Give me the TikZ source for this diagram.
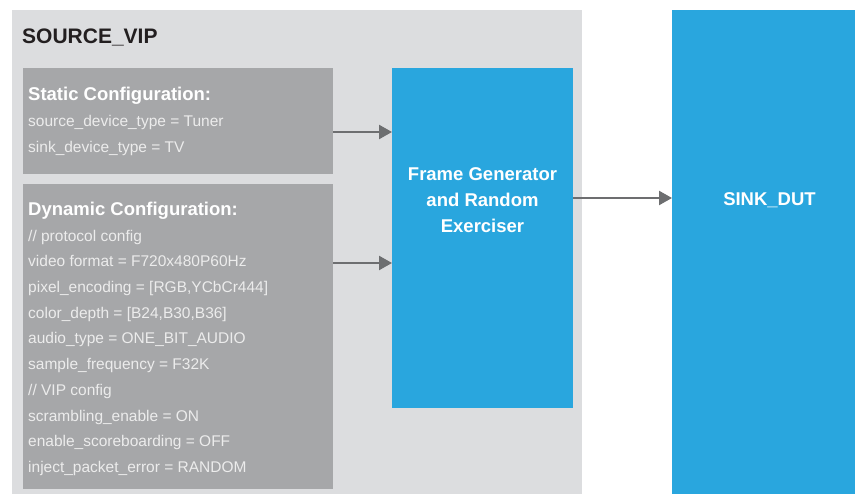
\documentclass[tikz,border=0pt]{standalone}
\usepackage{fontspec}
\setmainfont{Liberation Sans}
\usetikzlibrary{calc,arrows.meta}

\definecolor{outergray}{HTML}{DCDDDF}
\definecolor{innergray}{HTML}{A6A7A9}
\definecolor{vipblue}{HTML}{29A6DE}
\definecolor{arrowgray}{HTML}{6D6E70}
\definecolor{cfgtext}{HTML}{ECECEC}
\definecolor{titletext}{HTML}{231F20}

\begin{document}
\begin{tikzpicture}[x=1pt,y=-1pt]
	\tikzstyle{block}=[rectangle,inner sep=0pt,outer sep=0pt]
	\tikzstyle{cfgline}=[anchor=base west,inner sep=0pt,text=cfgtext,font=\fontsize{15.5}{26}\selectfont]
	\tikzstyle{cfgtitle}=[anchor=base west,inner sep=0pt,text=white,font=\bfseries\fontsize{18.5}{26}\selectfont]
	\tikzstyle{flow}=[draw=arrowgray,line width=2.4pt,-{Triangle[length=13pt,width=14pt]},arrowgray]
	
	\useasboundingbox (0,0) rectangle (855,494);
	
	% blocks
	\node[block,fill=outergray,minimum width=570pt,minimum height=484pt] (source) at (297,252) {};
	\node[block,fill=innergray,minimum width=310pt,minimum height=106pt] (static) at (178,121) {};
	\node[block,fill=innergray,minimum width=310pt,minimum height=305pt] (dynamic) at (178,336.5) {};
	\node[block,fill=vipblue,minimum width=181pt,minimum height=340pt] (framegen) at (482.5,238) {};
	\node[block,fill=vipblue,minimum width=183pt,minimum height=484pt] (sink) at (763.5,252) {};
	
	\node[anchor=base west,inner sep=0pt,text=titletext,font=\bfseries\fontsize{21}{26}\selectfont] (source-title) at (22,44) {SOURCE\_VIP};
	
	% static configuration
	\node[cfgtitle] (static-title) at (28,101) {Static Configuration:};
	\foreach \i/\txt in {1/{source\_device\_type = Tuner}, 2/{sink\_device\_type = TV}}
	\node[cfgline] (static-\i) at (28,101+25.7*\i) {\txt};
	
	% dynamic configuration
	\node[cfgtitle] (dynamic-title) at (28,215.5) {Dynamic Configuration:};
	\foreach \i/\txt in {1/{// protocol config},
		2/{video format = F720x480P60Hz},
		3/{pixel\_encoding = [RGB,YCbCr444]},
		4/{color\_depth = [B24,B30,B36]},
		5/{audio\_type = ONE\_BIT\_AUDIO},
		6/{sample\_frequency = F32K},
		7/{// VIP config},
		8/{scrambling\_enable = ON},
		9/{enable\_scoreboarding = OFF},
		10/{inject\_packet\_error = RANDOM}}
	\node[cfgline] (dynamic-\i) at (28,215.5+25.7*\i) {\txt};
	
	\node[align=center,text=white,font=\bfseries\fontsize{18.5}{26}\selectfont] (framegen-label) at ([yshift=38pt]framegen.center) {Frame Generator\\and Random\\Exerciser};
	\node[text=white,font=\bfseries\fontsize{18.5}{26}\selectfont] (sink-label) at ([xshift=6pt,yshift=52pt]sink.center) {SINK\_DUT};
	
	% connections
	\draw[flow] ([yshift=-11pt]static.east) -- ([yshift=-11pt]static.east -| framegen.west);
	\draw[flow] ([yshift=73.5pt]dynamic.east) -- ([yshift=73.5pt]dynamic.east -| framegen.west);
	\draw[flow] ([yshift=40pt]framegen.east) -- ([yshift=40pt]framegen.east -| sink.west);
	
\end{tikzpicture}
\end{document}
